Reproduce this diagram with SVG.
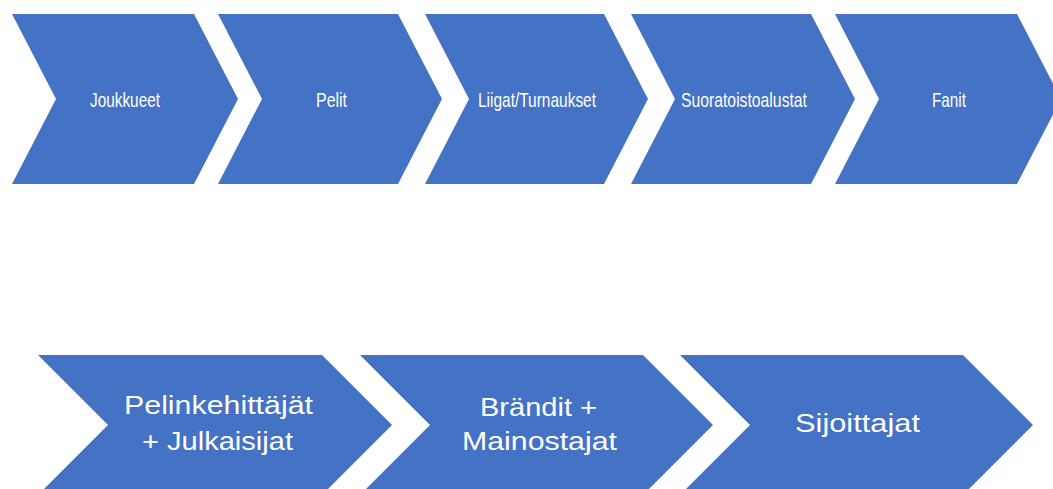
<svg xmlns="http://www.w3.org/2000/svg" width="1053" height="489" viewBox="0 0 1053 489">
<style>
.ch{fill:#4472C4}
.t1{fill:#ffffff;font-family:"Liberation Sans",Arial,sans-serif;font-size:21px;text-anchor:middle}
.t2{fill:#ffffff;font-family:"Liberation Sans",Arial,sans-serif;font-size:26px;text-anchor:middle}
</style>
<rect width="1053" height="489" fill="#ffffff"/>
<g id="node-joukkueet">
<polygon class="ch" points="12,14 194,14 238,99 194,184 12,184 56,99"/>
<text class="t1" x="125" y="107" textLength="70" lengthAdjust="spacingAndGlyphs">Joukkueet</text>
</g>
<g id="node-pelit">
<polygon class="ch" points="218,14 398,14 442,99 398,184 218,184 262,99"/>
<text class="t1" x="331.5" y="107" textLength="31" lengthAdjust="spacingAndGlyphs">Pelit</text>
</g>
<g id="node-liigat">
<polygon class="ch" points="425,14 604,14 648,99 604,184 425,184 469,99"/>
<text class="t1" x="537" y="107" textLength="118" lengthAdjust="spacingAndGlyphs">Liigat/Turnaukset</text>
</g>
<g id="node-suoratoisto">
<polygon class="ch" points="631,14 811,14 855,99 811,184 631,184 675,99"/>
<text class="t1" x="744" y="107" textLength="126" lengthAdjust="spacingAndGlyphs">Suoratoistoalustat</text>
</g>
<g id="node-fanit">
<polygon class="ch" points="835,14 1017,14 1061,99 1017,184 835,184 879,99"/>
<text class="t1" x="949" y="107" textLength="34" lengthAdjust="spacingAndGlyphs">Fanit</text>
</g>
<g id="node-pelinkehittajat">
<polygon class="ch" points="38,355 322,355 392,425 322,495 38,495 108,425"/>
<text class="t2" x="218.5" y="414" textLength="189" lengthAdjust="spacingAndGlyphs">Pelinkehittäjät</text>
<text class="t2" x="217.5" y="450" textLength="151" lengthAdjust="spacingAndGlyphs">+ Julkaisijat</text>
</g>
<g id="node-brandit">
<polygon class="ch" points="360,355 643,355 713,425 643,495 360,495 430,425"/>
<text class="t2" x="538.5" y="416" textLength="117" lengthAdjust="spacingAndGlyphs">Brändit +</text>
<text class="t2" x="539.5" y="450" textLength="155" lengthAdjust="spacingAndGlyphs">Mainostajat</text>
</g>
<g id="node-sijoittajat">
<polygon class="ch" points="680,355 963,355 1033,425 963,495 680,495 750,425"/>
<text class="t2" x="857.5" y="432" textLength="125" lengthAdjust="spacingAndGlyphs">Sijoittajat</text>
</g>
<g id="connectors"></g>
</svg>
